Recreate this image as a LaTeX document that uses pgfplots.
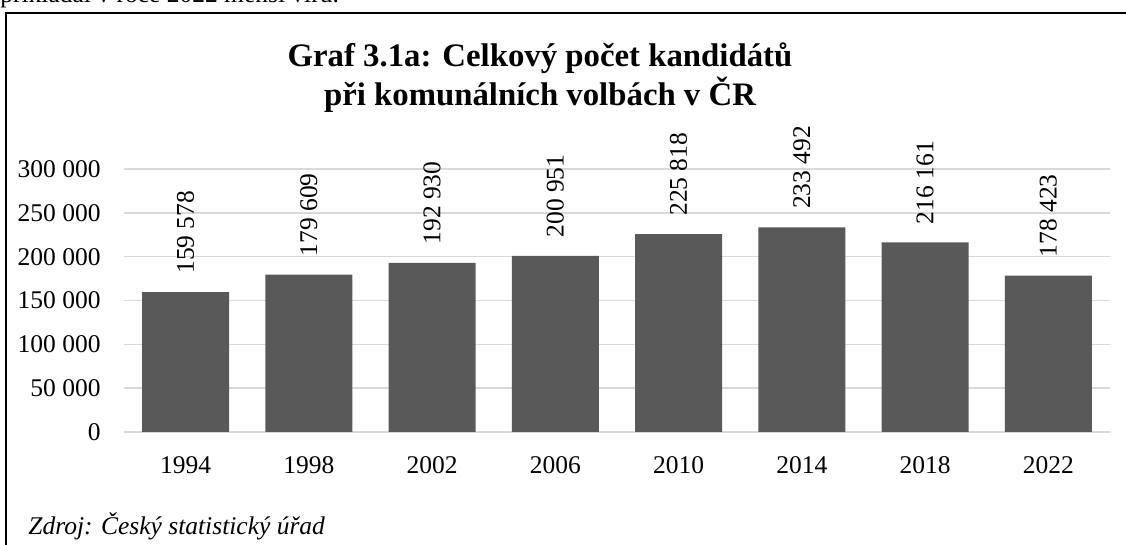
\documentclass[border=0pt]{standalone}
\usepackage{fontspec}
\setmainfont{Liberation Serif}
\usepackage{pgfplots}
\pgfplotsset{compat=1.18}
\definecolor{barcol}{HTML}{595959}
\definecolor{gridcol}{HTML}{D9D9D9}
\newcommand\tfont{\fontsize{12.75pt}{15pt}\selectfont}
\begin{document}
\begin{tikzpicture}
\useasboundingbox (0,0) rectangle (563pt,272.5pt);
% cut-off text line from the surrounding document
\node[anchor=base west, inner sep=0pt] at (0pt,271pt) {\tfont přikládal v roce 2022 menší víru.};
% frame
\draw[line width=1pt, black] (3pt,-2pt) -- (3pt,266pt) -- (570pt,266pt);
% title
\node[anchor=base, inner sep=0pt] at (270pt,239pt) {\fontsize{16.4pt}{19.5pt}\selectfont\bfseries Graf 3.1a: Celkový počet kandidátů};
\node[anchor=base, inner sep=0pt] at (270pt,219.5pt) {\fontsize{16.4pt}{19.5pt}\selectfont\bfseries při komunálních volbách v ČR};
% source
\node[anchor=base west, inner sep=0pt] at (14pt,5pt) {\tfont\itshape Zdroj: Český statistický úřad};
\begin{axis}[
  at={(62pt,56.5pt)}, anchor=south west,
  scale only axis, width=493pt, height=131.5pt,
  xmin=-0.5, xmax=7.5, ymin=0, ymax=300000,
  ybar, bar width=43.5pt,
  clip=false,
  axis line style={draw=none},
  major tick length=0pt,
  ymajorgrids, grid style={gridcol, line width=0.75pt},
  xtick={0,1,2,3,4,5,6,7},
  xticklabels={1994,1998,2002,2006,2010,2014,2018,2022},
  ytick={0,50000,100000,150000,200000,250000,300000},
  yticklabels={0,50 000,100 000,150 000,200 000,250 000,300 000},
  scaled y ticks=false,
  xticklabel style={font=\tfont, inner sep=0pt, anchor=north, yshift=-12pt},
  yticklabel style={font=\tfont, inner sep=0pt, anchor=east, xshift=-11.5pt},
  point meta=explicit symbolic,
  nodes near coords,
  every node near coord/.append style={font=\tfont, rotate=90, anchor=west, inner xsep=9pt, inner ysep=0pt, text=black},
]
\addplot[fill=barcol, draw=none] coordinates {
  (0,159578) [159 578]
  (1,179609) [179 609]
  (2,192930) [192 930]
  (3,200951) [200 951]
  (4,225818) [225 818]
  (5,233492) [233 492]
  (6,216161) [216 161]
  (7,178423) [178 423]
};
\end{axis}
\end{tikzpicture}
\end{document}
